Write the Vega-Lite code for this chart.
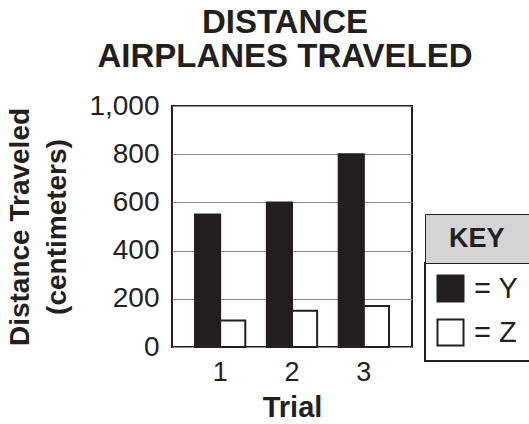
{
  "$schema": "https://vega.github.io/schema/vega-lite/v6.json",
  "width": 240,
  "height": 241,
  "autosize": "none",
  "padding": {"left": 172, "top": 106, "right": 117, "bottom": 77},
  "background": "white",
  "config": {
    "font": "Liberation Sans",
    "view": {"stroke": "#231f20", "strokeWidth": 2}
  },
  "title": {
    "text": ["DISTANCE", "AIRPLANES TRAVELED"],
    "fontSize": 33,
    "fontWeight": "bold",
    "lineHeight": 34,
    "color": "#231f20",
    "anchor": "middle",
    "frame": "group",
    "dx": -7,
    "offset": 18
  },
  "data": {
    "values": [
      {"trial": "1", "series": "Y", "distance": 550},
      {"trial": "1", "series": "Z", "distance": 110},
      {"trial": "2", "series": "Y", "distance": 600},
      {"trial": "2", "series": "Z", "distance": 150},
      {"trial": "3", "series": "Y", "distance": 800},
      {"trial": "3", "series": "Z", "distance": 170}
    ]
  },
  "mark": {"type": "bar", "stroke": "#231f20", "strokeWidth": 2},
  "encoding": {
    "x": {
      "field": "trial",
      "type": "nominal",
      "scale": {"paddingInner": 0.3, "paddingOuter": 0.32},
      "axis": {
        "title": "Trial",
        "labelAngle": 0,
        "labelFontSize": 27,
        "labelColor": "#231f20",
        "labelPadding": 12,
        "ticks": false,
        "domain": false,
        "titleFontSize": 29,
        "titleFontWeight": "bold",
        "titleColor": "#231f20",
        "titlePadding": 8
      }
    },
    "xOffset": {
      "field": "series",
      "type": "nominal",
      "scale": {"paddingInner": 0, "paddingOuter": 0}
    },
    "y": {
      "field": "distance",
      "type": "quantitative",
      "scale": {"domain": [0, 1000], "nice": false},
      "axis": {
        "values": [0, 200, 400, 600, 800, 1000],
        "format": ",d",
        "grid": true,
        "gridColor": "#8c8c8c",
        "gridWidth": 1,
        "ticks": false,
        "domain": false,
        "labelFontSize": 28,
        "labelPadding": 13,
        "labelColor": "#231f20",
        "title": ["Distance Traveled", "(centimeters)"],
        "titleFontSize": 28,
        "titleFontWeight": "bold",
        "titleColor": "#231f20",
        "titleLineHeight": 37,
        "titlePadding": 17
      }
    },
    "fill": {
      "field": "series",
      "type": "nominal",
      "scale": {"domain": ["Y", "Z"], "range": ["#231f20", "#ffffff"]},
      "legend": {
        "orient": "none",
        "legendX": 253,
        "legendY": 157,
        "title": null,
        "symbolType": "M-1,-1H1V1H-1Z M10,0Z",
        "symbolSize": 676,
        "symbolStrokeColor": "#231f20",
        "symbolStrokeWidth": 2,
        "labelExpr": "'= ' + datum.label",
        "labelFontSize": 29,
        "labelColor": "#231f20",
        "labelLimit": 500,
        "labelOffset": 9,
        "rowPadding": 9,
        "padding": 11,
        "strokeColor": "#231f20",
        "fillColor": "#ffffff",
        "encode": {"legend": {"update": {"strokeWidth": {"value": 2}}}}
      }
    },
    "strokeDash": {
      "datum": "KEY",
      "scale": {"range": [[1, 0]]},
      "legend": {
        "orient": "none",
        "legendX": 253,
        "legendY": 108,
        "title": null,
        "symbolType": "M0,0M130,0Z",
        "symbolSize": 4,
        "symbolOpacity": 0,
        "symbolStrokeWidth": 0,
        "labelFontSize": 27,
        "labelFontWeight": "bold",
        "labelColor": "#231f20",
        "labelLimit": 600,
        "labelOffset": -14,
        "padding": 11,
        "strokeColor": "#231f20",
        "fillColor": "#d4d4d4",
        "encode": {"legend": {"update": {"strokeWidth": {"value": 2}}}}
      }
    }
  }
}
